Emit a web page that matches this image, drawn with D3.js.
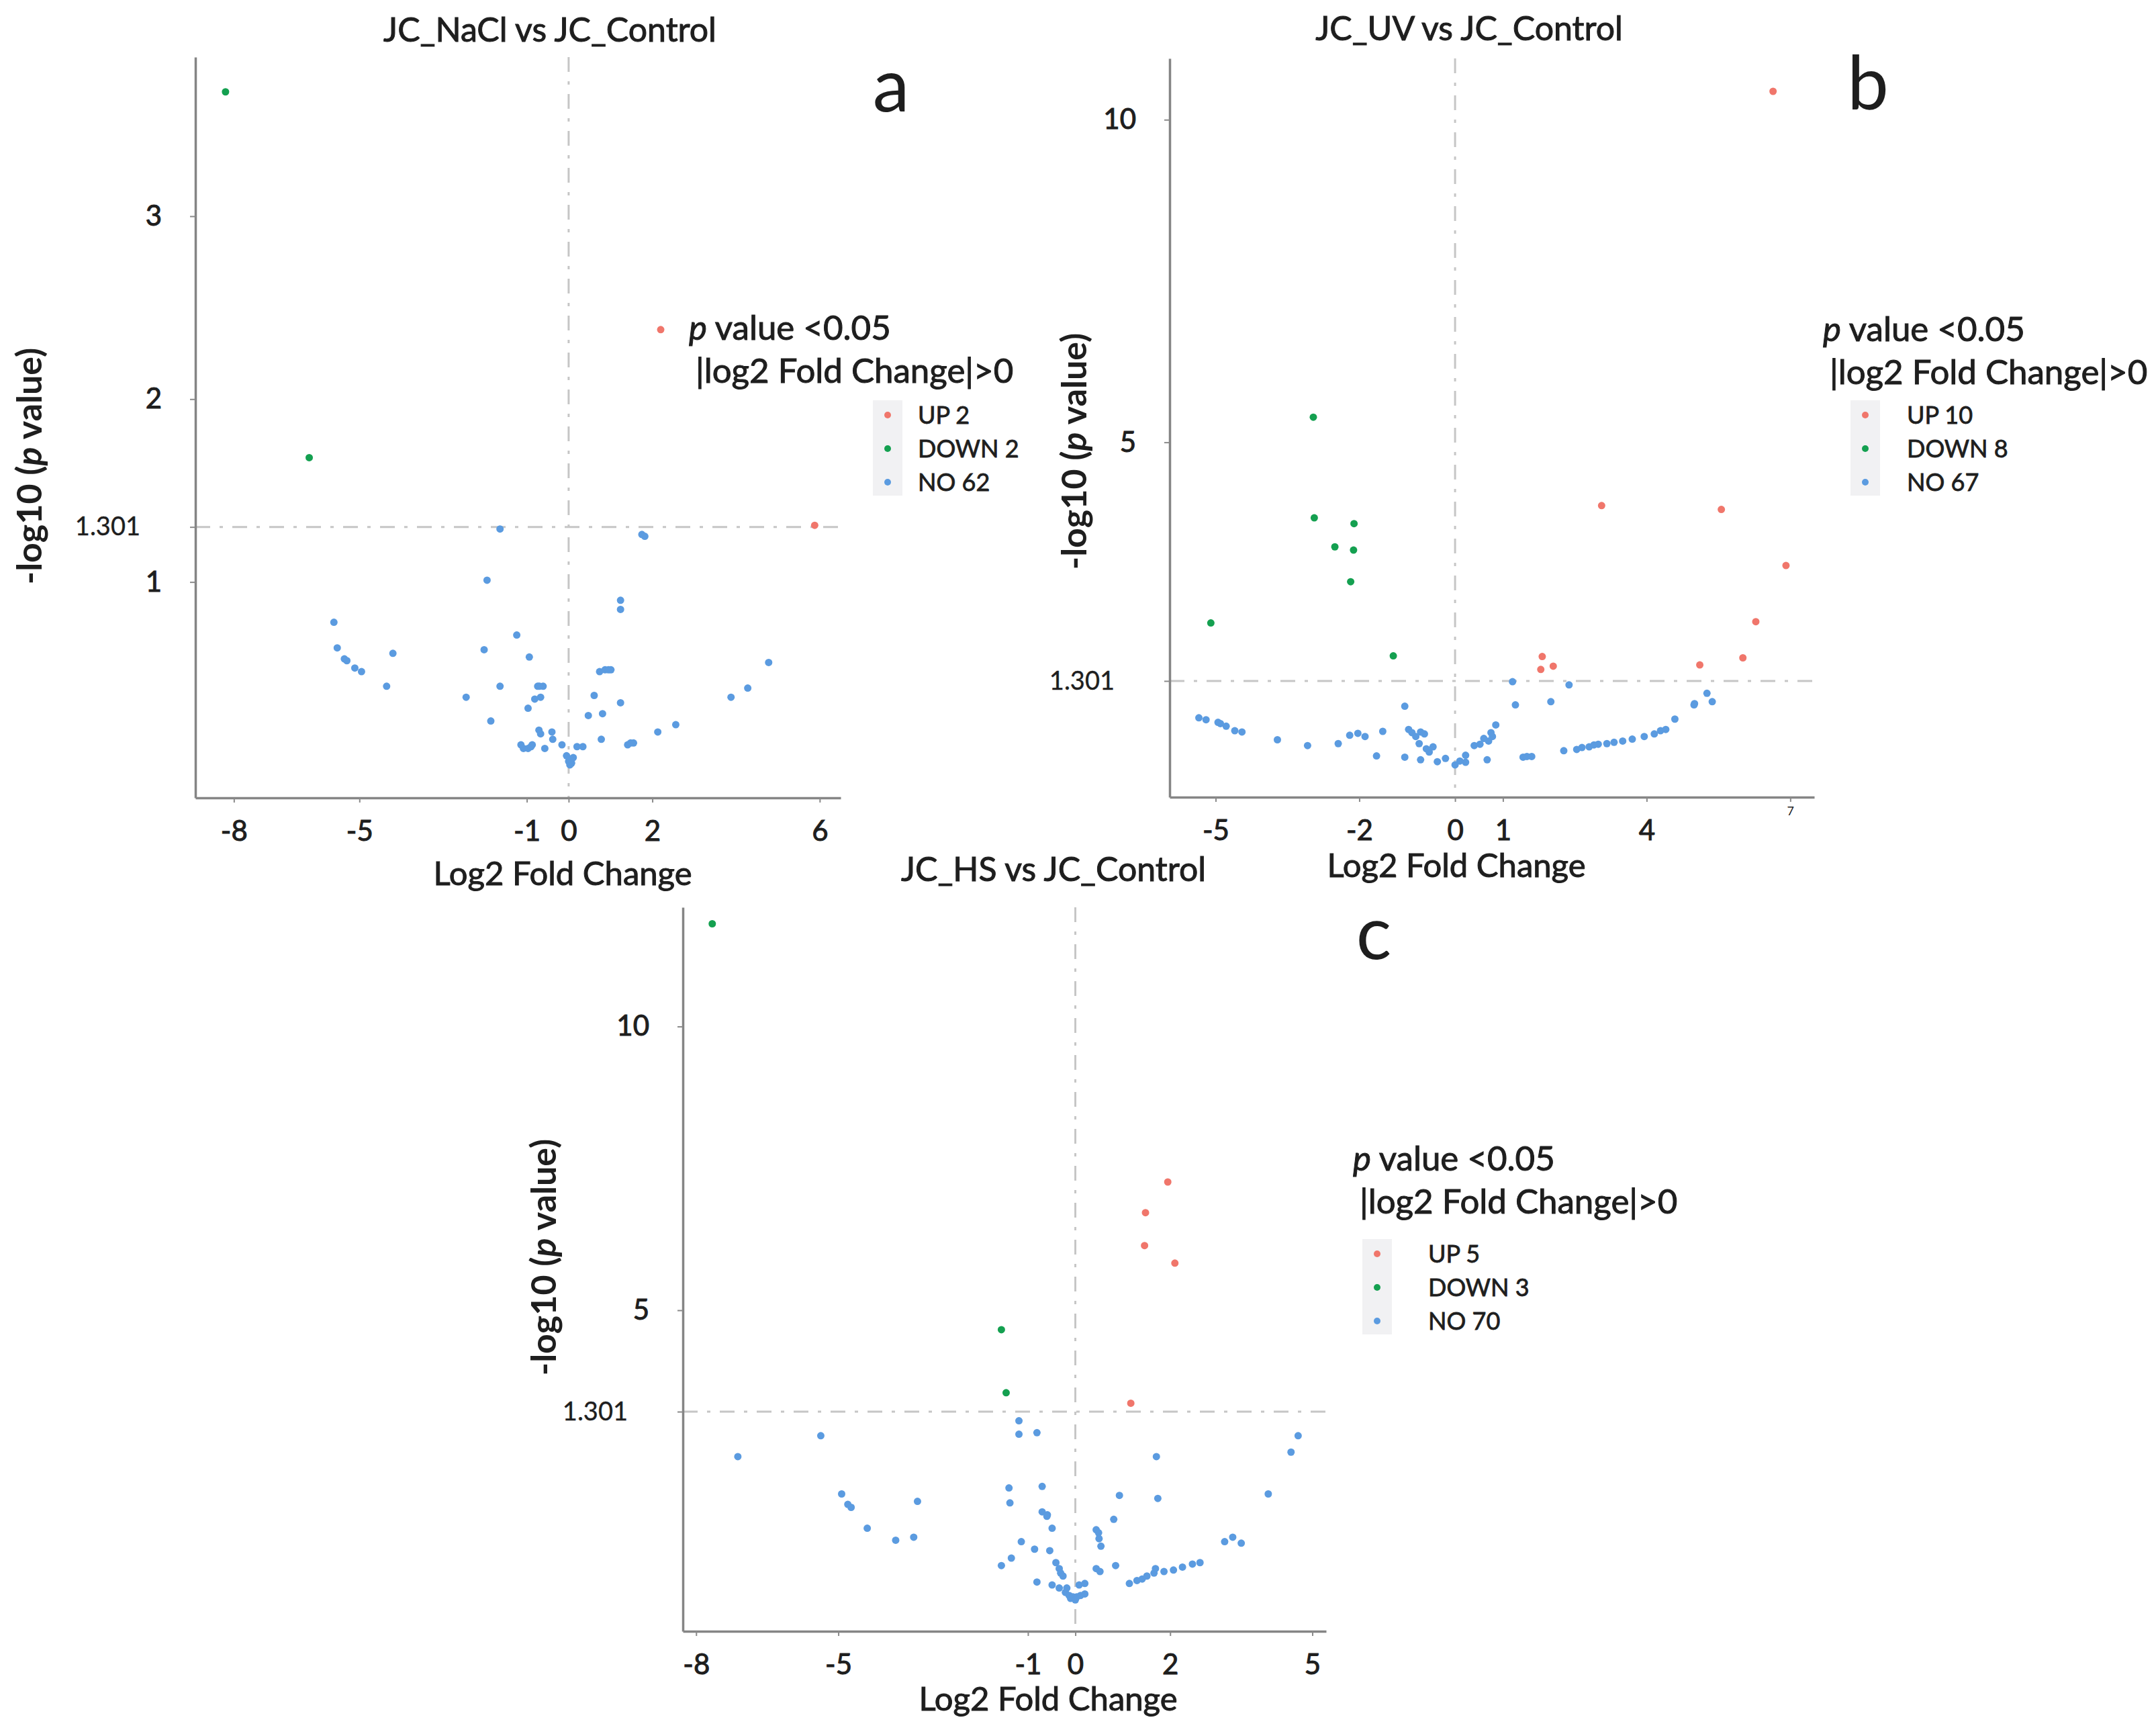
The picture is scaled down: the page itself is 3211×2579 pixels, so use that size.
<!DOCTYPE html>
<html>
<head>
<meta charset="utf-8">
<script src="https://cdn.jsdelivr.net/npm/d3@7"></script>
<style>
body { margin: 0; background: #fff; }
text { font-family: Lato, "Open Sans", sans-serif; fill: #1e1e1e; }
</style>
</head>
<body>
<div id="main"></div>
<script>
// ---- data: [log2 fold change, -log10 p] ----
var naclUp = [[5.88, 1.31], [2.2, 2.38]];
var naclDown = [[-8.2, 3.68], [-6.2, 1.68]];
var naclNo = [
  [-1.64, 1.29], [1.75, 1.26], [1.82, 1.25], [-1.95, 1.01], [1.24, 0.90], [1.24, 0.85],
  [-5.61, 0.78], [-5.53, 0.64], [-5.36, 0.58], [-5.30, 0.57], [-5.11, 0.53], [-4.95, 0.51],
  [-4.20, 0.61], [-4.35, 0.43], [-2.02, 0.63], [-1.24, 0.71], [-0.94, 0.59], [-1.64, 0.43],
  [-2.45, 0.37], [-1.86, 0.24], [-0.74, 0.43], [-0.61, 0.43], [-0.81, 0.36], [-0.67, 0.37],
  [-0.97, 0.31], [-0.71, 0.19], [-0.67, 0.17], [-0.40, 0.18], [-0.38, 0.14], [-0.57, 0.09],
  [-1.14, 0.11], [-1.08, 0.09], [-0.97, 0.09], [-0.87, 0.11], [-0.16, 0.11], [0.0, 0.02],
  [0.07, 0.01], [0.11, 0.04], [0.03, 0.0], [0.2, 0.10], [0.34, 0.10], [0.47, 0.27],
  [0.81, 0.28], [0.61, 0.38], [0.74, 0.51], [0.87, 0.52], [1.01, 0.52], [1.24, 0.34],
  [0.78, 0.14], [1.41, 0.11], [1.55, 0.12], [2.13, 0.18], [2.56, 0.22], [3.88, 0.37],
  [4.28, 0.42], [4.78, 0.56], [-0.05, 0.05], [0.05, 0.03], [-0.90, 0.10], [-0.70, 0.43],
  [0.95, 0.52], [1.48, 0.12]
];

var uvUp = [[6.64, 10.44], [3.06, 4.02], [5.56, 3.96], [6.91, 3.09], [6.28, 2.22],
  [6.01, 1.66], [5.11, 1.55], [1.82, 1.68], [1.79, 1.48], [2.05, 1.53]];
var uvDown = [[-2.96, 5.39], [-2.94, 3.83], [-2.11, 3.74], [-2.51, 3.38], [-2.12, 3.33],
  [-2.18, 2.84], [-5.10, 2.20], [-1.29, 1.69]];
var uvNo = [
  [1.20, 1.29], [2.38, 1.24], [1.26, 0.93], [2.0, 0.98], [-1.05, 0.91], [5.26, 1.11],
  [5.37, 0.98], [4.99, 0.93], [4.59, 0.71], [4.29, 0.53], [4.16, 0.48], [3.95, 0.44],
  [3.32, 0.35], [3.17, 0.33], [2.99, 0.32], [2.80, 0.28], [2.65, 0.27], [2.54, 0.24],
  [2.27, 0.22], [1.60, 0.13], [1.42, 0.12], [0.85, 0.62], [0.78, 0.44], [0.70, 0.37],
  [0.52, 0.32], [0.60, 0.41], [0.67, 0.08], [0.22, 0.15], [0.22, 0.04], [0.0, 0.0],
  [-0.37, 0.05], [-0.72, 0.08], [-0.46, 0.28], [-0.54, 0.20], [-0.75, 0.33], [-0.64, 0.48],
  [-0.72, 0.51], [-0.97, 0.55], [-0.82, 0.44], [-1.05, 0.12], [-1.51, 0.52], [-1.64, 0.14],
  [-1.88, 0.44], [-2.03, 0.49], [-2.44, 0.33], [-3.08, 0.30], [-3.71, 0.39], [-4.45, 0.51],
  [-4.60, 0.53], [-4.78, 0.60], [-4.95, 0.66], [-5.35, 0.73], [-4.9, 0.64], [3.5, 0.37],
  [3.7, 0.40], [2.9, 0.31], [0.1, 0.06], [-0.2, 0.1], [-0.6, 0.25], [0.4, 0.3],
  [4.4, 0.55], [-2.2, 0.46], [1.5, 0.13], [5.0, 0.95], [-0.9, 0.5], [0.75, 0.5], [-5.2, 0.70]
];

var hsUp = [[1.95, 7.26], [1.48, 6.72], [1.46, 6.14], [2.10, 5.83], [1.17, 1.61]];
var hsDown = [[-7.66, 11.81], [-1.56, 4.29], [-1.46, 1.99]];
var hsNo = [
  [-7.12, 1.00], [-5.37, 1.14], [-1.19, 1.24], [-1.19, 1.15], [-0.81, 1.16], [1.71, 1.00],
  [4.70, 1.14], [4.55, 1.03], [-4.93, 0.75], [-4.80, 0.68], [-4.73, 0.66], [-4.39, 0.52],
  [-3.79, 0.44], [-3.41, 0.46], [-3.33, 0.70], [-1.40, 0.79], [-1.38, 0.69], [-0.70, 0.80],
  [-0.70, 0.63], [-0.59, 0.61], [-0.49, 0.52], [-1.14, 0.43], [-0.86, 0.38], [-1.56, 0.27],
  [-1.35, 0.32], [-0.54, 0.37], [-0.41, 0.29], [-0.34, 0.25], [-0.31, 0.22], [-0.26, 0.20],
  [-0.81, 0.16], [-0.49, 0.14], [-0.34, 0.12], [-0.21, 0.09], [-0.13, 0.07], [-0.05, 0.06],
  [0.03, 0.06], [0.11, 0.07], [0.20, 0.08], [-0.18, 0.12], [0.08, 0.14], [0.20, 0.15],
  [0.44, 0.51], [0.49, 0.49], [0.54, 0.40], [0.44, 0.25], [0.52, 0.23], [0.85, 0.27],
  [0.81, 0.58], [0.93, 0.74], [1.74, 0.72], [1.14, 0.15], [1.41, 0.18], [1.51, 0.20],
  [1.66, 0.22], [1.69, 0.25], [1.87, 0.23], [2.07, 0.24], [2.26, 0.26], [2.47, 0.28],
  [2.63, 0.29], [3.15, 0.43], [3.32, 0.46], [3.50, 0.42], [4.07, 0.75], [-0.1, 0.05],
  [0.0, 0.04], [-0.6, 0.6], [1.3, 0.17], [0.5, 0.45]
];

// ticks and labels
var naclXTicks = [-8, -5, -1, 0, 2, 6];
var naclYTicks = [1, 1.301, 2, 3];
var uvXTicks = [-5, -2, 0, 1, 4, 7];
var uvYTicks = [1.301, 5, 10];
var hsXTicks = [-8, -5, -1, 0, 2, 5];
var hsYTicks = [1.301, 5, 10];

var titles = ["JC_NaCl vs JC_Control", "JC_UV vs JC_Control", "JC_HS vs JC_Control"];
var panelLetters = ["a", "b", "c"];
var naclLegend = ["UP 2", "DOWN 2", "NO 62"];
var uvLegend = ["UP 10", "DOWN 8", "NO 67"];
var hsLegend = ["UP 5", "DOWN 3", "NO 70"];

var threshold = 1.301;
var colors = ["#f0766b", "#14a050", "#5b9be0"];

var svg = d3.select("#main").append("svg")
  .attr("width", 3211)
  .attr("height", 2579);

var panels = [
  { left: 291, right: 1252, top: 85, bottom: 1188,
    xDomain: [-8.92, 6.5], yDomain: [-0.18, 3.87], yRange: [1188, 85],
    xTicks: naclXTicks, yTicks: naclYTicks,
    groups: [naclUp, naclDown, naclNo], legend: naclLegend,
    title: titles[0], titleX: 819, titleY: 62, letter: panelLetters[0], letterX: 1327, letterY: 166,
    xLabelX: 838, xLabelY: 1318, yLabelX: 44, yLabelY: 694,
    legX: 1026, legY: 506, boxX: 1300, itemY: 618, itemDx: 45 },
  { left: 1742, right: 2702, top: 87, bottom: 1187,
    xDomain: [-5.96, 7.5], yDomain: [-0.5, 10.95], yRange: [1187, 87],
    xTicks: uvXTicks, yTicks: uvYTicks,
    groups: [uvUp, uvDown, uvNo], legend: uvLegend,
    title: titles[1], titleX: 2188, titleY: 60, letter: panelLetters[1], letterX: 2782, letterY: 162,
    xLabelX: 2169, xLabelY: 1306, yLabelX: 1600, yLabelY: 672,
    legX: 2715, legY: 508, boxX: 2756, itemY: 618, itemDx: 62 },
  { left: 1017, right: 1975, top: 1351, bottom: 2429,
    xDomain: [-8.28, 5.29], yDomain: [-0.17, 1.301, 5, 12.1], yRange: [2429, 2102, 1951, 1351],
    xTicks: hsXTicks, yTicks: hsYTicks,
    groups: [hsUp, hsDown, hsNo], legend: hsLegend,
    title: titles[2], titleX: 1569, titleY: 1312, letter: panelLetters[2], letterX: 2046, letterY: 1428,
    xLabelX: 1561, xLabelY: 2547, yLabelX: 810, yLabelY: 1872,
    legX: 2015, legY: 1743, boxX: 2029, itemY: 1867, itemDx: 76 }
];

panels.forEach(drawPanel);

function heavy(sel, w) {
  // the source text is a touch heavier than Lato Regular
  return sel.attr("stroke", "#1e1e1e").attr("stroke-width", w).style("paint-order", "stroke");
}

function drawPanel(p, i) {
  var x = d3.scaleLinear().domain(p.xDomain).range([p.left, p.right]);
  var y = d3.scaleLinear().domain(p.yDomain).range(p.yRange);
  var g = svg.append("g");

  // dash-dot reference lines
  g.append("line")
    .attr("x1", x(0)).attr("x2", x(0))
    .attr("y1", p.top).attr("y2", p.bottom)
    .attr("stroke", "#c6c6c6").attr("stroke-width", 3)
    .attr("stroke-dasharray", "22,14,5,14");
  g.append("line")
    .attr("x1", p.left).attr("x2", p.right)
    .attr("y1", y(threshold)).attr("y2", y(threshold))
    .attr("stroke", "#c6c6c6").attr("stroke-width", 3)
    .attr("stroke-dasharray", "22,14,5,14");

  var xAxis = d3.axisBottom(x).tickValues(p.xTicks).tickFormat(d => String(d))
    .tickSize(7).tickPadding(27).tickSizeOuter(0);
  var yAxis = d3.axisLeft(y).tickValues(p.yTicks).tickFormat(d => String(d))
    .tickSize(8).tickPadding(42).tickSizeOuter(0);

  var xAxisG = g.append("g").attr("transform", "translate(0," + p.bottom + ")").call(xAxis);
  var yAxisG = g.append("g").attr("transform", "translate(" + p.left + ",0)").call(yAxis);

  [xAxisG, yAxisG].forEach(function (a) {
    a.select(".domain").attr("stroke", "#858585").attr("stroke-width", 3.5);
    a.selectAll(".tick line").attr("stroke", "#8a8a8a").attr("stroke-width", 2);
    heavy(a.selectAll(".tick text").style("font-family", "Lato, sans-serif")
      .style("font-size", "42px").attr("fill", "#1e1e1e"), 1);
  });
  yAxisG.selectAll(".tick text").filter(d => d === threshold)
    .attr("x", -82).style("font-size", "38px").attr("stroke-width", 0.4);
  if (i === 1) {
    xAxisG.selectAll(".tick text").filter(d => d === 7)
      .attr("y", 14).style("font-size", "18px").attr("fill", "#aaa").attr("stroke", "none");
  }

  // points: NO first so significant ones sit on top
  [2, 1, 0].forEach(function (k) {
    g.append("g").selectAll("circle")
      .data(p.groups[k])
      .enter()
      .append("circle")
      .attr("cx", d => x(d[0]))
      .attr("cy", d => y(d[1]))
      .attr("r", 5.5)
      .attr("fill", colors[k]);
  });

  // texts
  heavy(g.append("text")
    .attr("x", p.titleX).attr("y", p.titleY)
    .attr("text-anchor", "middle")
    .style("font-size", "50px")
    .text(p.title), 1);

  g.append("text")
    .attr("x", p.letterX).attr("y", p.letterY)
    .attr("text-anchor", "middle")
    .style("font-size", "110px")
    .attr("fill", "#111")
    .text(p.letter);

  heavy(g.append("text")
    .attr("x", p.xLabelX).attr("y", p.xLabelY)
    .attr("text-anchor", "middle")
    .style("font-size", "49px")
    .text("Log2 Fold Change"), 1);

  var yl = g.append("text")
    .attr("transform", "translate(" + p.yLabelX + "," + p.yLabelY + ") rotate(-90)")
    .attr("text-anchor", "middle")
    .attr("dy", "0.35em")
    .style("font-size", "52px")
    .style("font-weight", "bold");
  yl.append("tspan").text("-log10 (");
  yl.append("tspan").style("font-style", "italic").text("p");
  yl.append("tspan").text(" value)");

  // legend
  var h = heavy(g.append("text")
    .attr("x", p.legX).attr("y", p.legY)
    .style("font-size", "51px"), 1);
  h.append("tspan").style("font-style", "italic").text("p");
  h.append("tspan").text(" value <0.05");
  heavy(g.append("text")
    .attr("x", p.legX + 10).attr("y", p.legY + 64)
    .style("font-size", "51px")
    .text("|log2 Fold Change|>0"), 1);

  g.append("rect")
    .attr("x", p.boxX).attr("y", p.itemY - 22)
    .attr("width", 44).attr("height", 142)
    .attr("fill", "#f1f1f3");

  var items = g.selectAll(".leg").data(p.legend).enter().append("g")
    .attr("transform", (d, k) => "translate(" + (p.boxX + 22) + "," + (p.itemY + k * 50) + ")");
  items.append("circle").attr("r", 5).attr("fill", (d, k) => colors[k]);
  heavy(items.append("text")
    .attr("x", p.itemDx).attr("dy", "0.36em")
    .style("font-size", "36px")
    .text(d => d), 0.8);
}
</script>
</body>
</html>
